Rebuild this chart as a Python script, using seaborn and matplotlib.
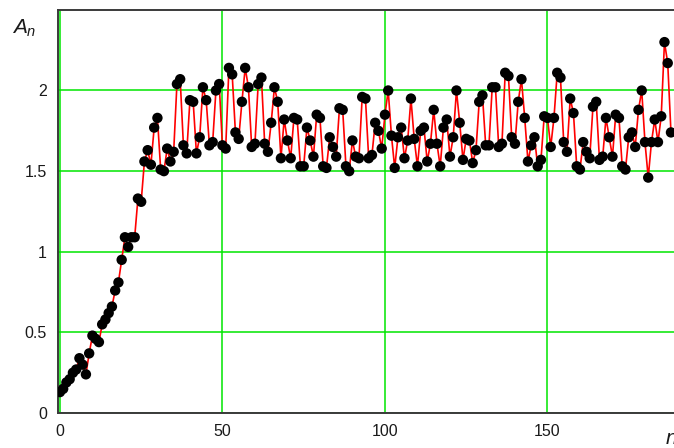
import matplotlib
matplotlib.use("Agg")
import matplotlib.pyplot as plt
import seaborn as sns
import numpy as np
import pandas as pd

# values A_n, one per n = 0, 1, 2, ...
a_rise = [0.13, 0.15, 0.19, 0.21, 0.25, 0.27, 0.34, 0.30, 0.24, 0.37,
          0.48, 0.46, 0.44, 0.55, 0.58, 0.62, 0.66, 0.76, 0.81, 0.95,
          1.09, 1.03, 1.09, 1.09, 1.33, 1.31, 1.56, 1.63, 1.54, 1.77,
          1.83, 1.51, 1.50, 1.64, 1.56, 1.62]
a_plateau = [2.04, 2.07, 1.66, 1.61, 1.94, 1.93, 1.61, 1.71, 2.02, 1.94,
             1.66, 1.68, 2.00, 2.04, 1.66, 1.64, 2.14, 2.10, 1.74, 1.70,
             1.93, 2.14, 2.02, 1.65, 1.67, 2.04, 2.08, 1.67, 1.62, 1.80,
             2.02, 1.93, 1.58, 1.82, 1.69, 1.58, 1.83, 1.82, 1.53, 1.53,
             1.77, 1.69, 1.59, 1.85, 1.83, 1.53, 1.52, 1.71, 1.65, 1.59,
             1.89, 1.88, 1.53, 1.50, 1.69, 1.59, 1.58, 1.96, 1.95, 1.58,
             1.60, 1.80, 1.75, 1.64, 1.85, 2.00, 1.72, 1.52, 1.71, 1.77,
             1.58, 1.69, 1.95, 1.70, 1.53, 1.75, 1.77, 1.56, 1.67, 1.88,
             1.67, 1.53, 1.77, 1.82, 1.59, 1.71, 2.00, 1.80, 1.57, 1.70,
             1.69, 1.55, 1.63, 1.93, 1.97, 1.66, 1.66, 2.02, 2.02, 1.65,
             1.67, 2.11, 2.09, 1.71, 1.67, 1.93, 2.07, 1.83, 1.56, 1.66,
             1.71, 1.53, 1.57, 1.84, 1.83, 1.65, 1.83, 2.11, 2.08, 1.68,
             1.62, 1.95, 1.86, 1.53, 1.51, 1.68, 1.62, 1.58, 1.90, 1.93,
             1.57, 1.59, 1.83, 1.71, 1.59, 1.85, 1.83, 1.53, 1.51, 1.71,
             1.74, 1.65, 1.88, 2.00, 1.68, 1.46, 1.68, 1.82, 1.68, 1.84,
             2.30, 2.17, 1.74]

x_ticks = [0, 50, 100, 150]
y_ticks = [0, 0.5, 1, 1.5, 2]
y_labels = ["0", "0.5", "1", "1.5", "2"]

a_values = a_rise + a_plateau
df = pd.DataFrame({"n": np.arange(len(a_values)), "A": a_values})

sns.set_style("white")
plt.rcParams["font.family"] = ["Liberation Sans", "DejaVu Sans"]
plt.rcParams["mathtext.fontset"] = "custom"
plt.rcParams["mathtext.it"] = "Liberation Sans:italic"

fig = plt.figure(figsize=(6.74, 4.48), dpi=100)
ax = fig.add_axes([0.086, 0.078, 0.964, 0.9])

# red connecting line, then the black dots on top
sns.lineplot(data=df, x="n", y="A", ax=ax, color="red", linewidth=1.2,
             zorder=3, legend=False)
sns.scatterplot(data=df, x="n", y="A", ax=ax, color="black", s=56,
                edgecolor="none", zorder=4, legend=False)

# the axes run past the right edge of the picture, like the reference
ax.set_xlim(-0.6, 199.3)
ax.set_ylim(0, 2.5)

ax.set_xticks(x_ticks)
ax.set_yticks(y_ticks)
ax.set_yticklabels(y_labels)
ax.tick_params(length=0, labelsize=11.5, colors="#1a1a1a", pad=8)

ax.grid(True, color="#00e600", linewidth=1.1)
ax.set_axisbelow(True)
for s in ax.spines.values():
    s.set_color("#3a3a3a")
    s.set_linewidth(1.4)

ax.set_xlabel("")
ax.set_ylabel("")

fig.text(0.018, 0.925, r"$A_n$", fontsize=15, color="#1a1a1a")
fig.text(0.986, 0.008, r"$n$", fontsize=15, color="#1a1a1a")

fig.savefig("out.png", dpi=100)
